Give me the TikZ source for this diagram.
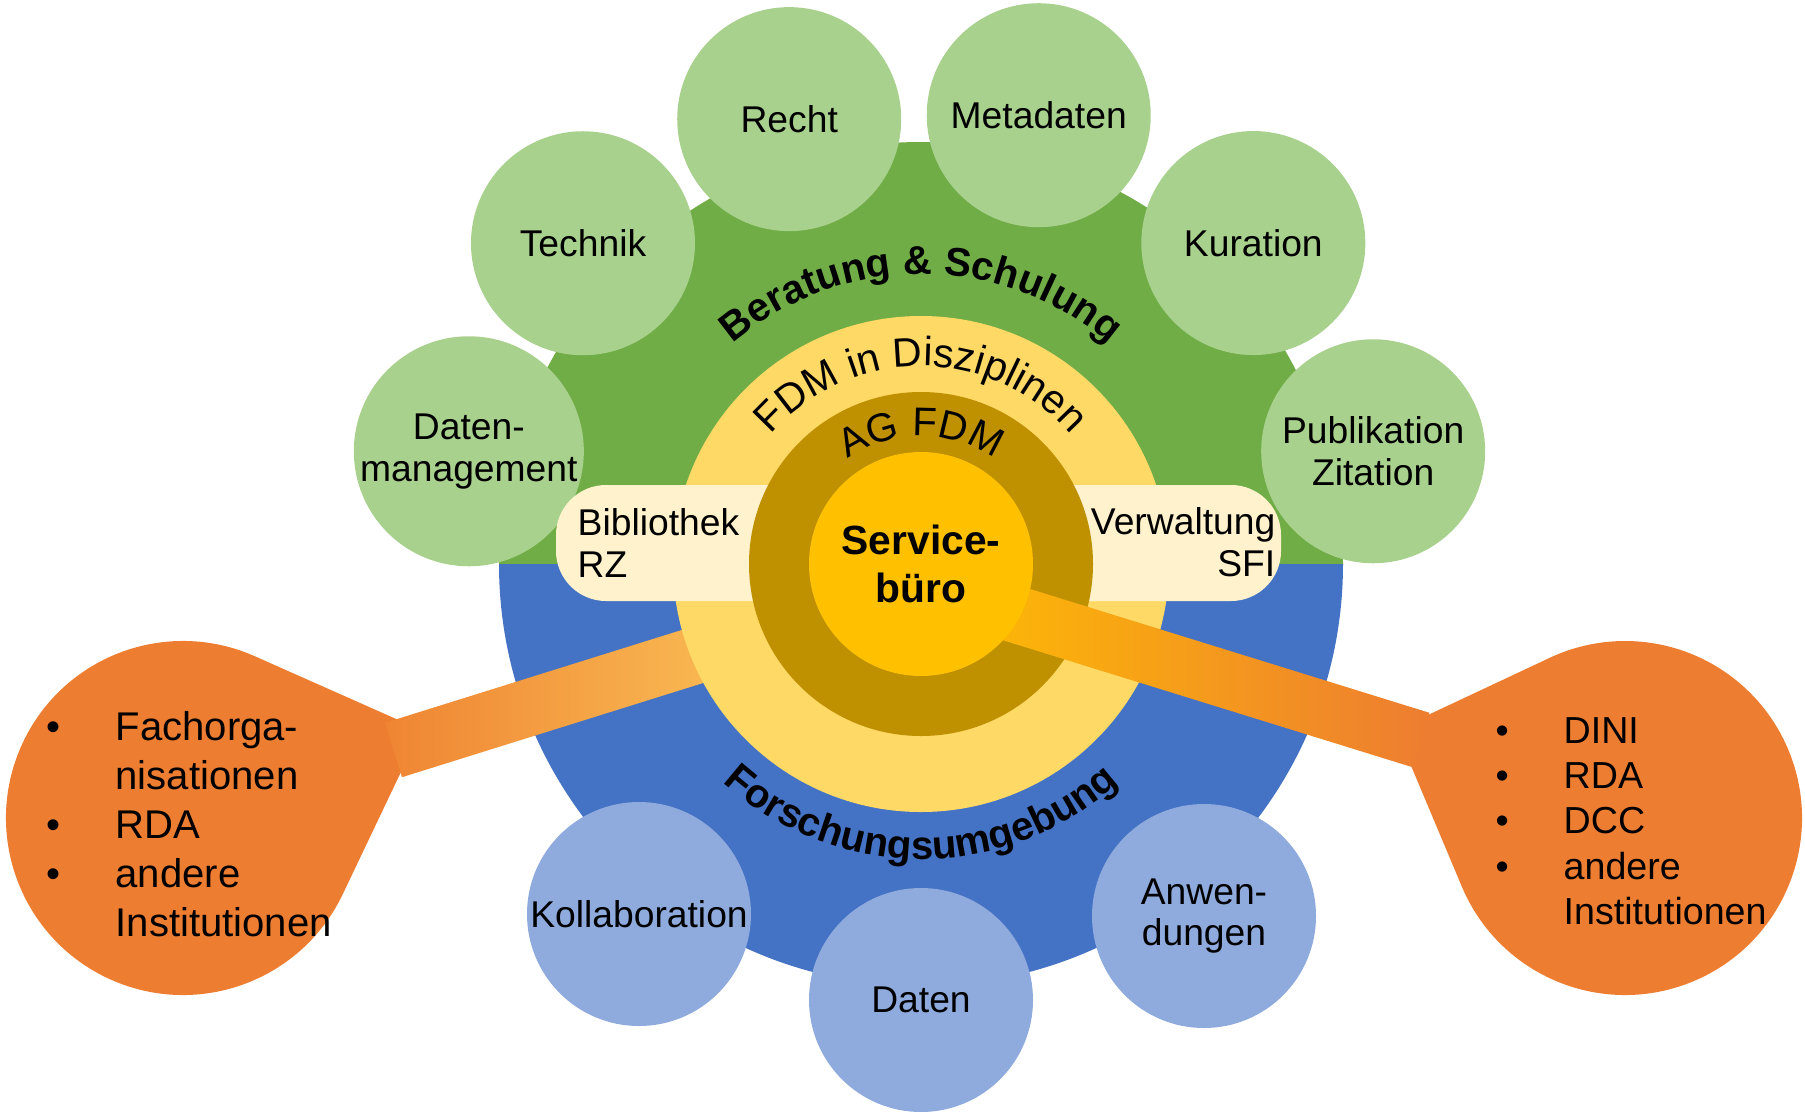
\documentclass[tikz,border=0pt]{standalone}
\usepackage{fontspec}
\setmainfont{Liberation Sans}
\usetikzlibrary{calc,decorations.text}

\definecolor{ringgreen}{HTML}{70AD47}
\definecolor{leafgreen}{HTML}{A9D18E}
\definecolor{ringblue}{HTML}{4472C4}
\definecolor{leafblue}{HTML}{8FAADC}
\definecolor{discyellow}{HTML}{FFD966}
\definecolor{agbrown}{HTML}{BF9000}
\definecolor{coregold}{HTML}{FFC000}
\definecolor{barcream}{HTML}{FFF2CC}
\definecolor{callorange}{HTML}{ED7D31}
\definecolor{beamorange}{HTML}{EF8533}

\newcommand{\leaffont}{\fontsize{10.6}{11.9}\selectfont}

\begin{document}
\begin{tikzpicture}[
    leaf/.style={circle, fill=leafgreen, minimum size=2.24cm, inner sep=0pt, align=center, font=\leaffont},
    tool/.style={leaf, fill=leafblue},
    disc/.style={circle, inner sep=0pt, minimum size=#1},
    arctext/.style={decorate, decoration={text along path, text align=center, text={#1}}},
    bubble/.style={fill=callorange},
]

\useasboundingbox (-9.21,-5.47) rectangle (8.84,5.64);

% outer ring
\fill[ringgreen] (4.22,0) arc[start angle=0, end angle=180, radius=4.22] -- cycle;
\fill[ringblue] (-4.22,0) arc[start angle=180, end angle=360, radius=4.22] -- cycle;

\node[leaf] (datenmgmt) at (166:4.66) {Daten-\\management};
\node[leaf] (technik) at (136.5:4.66) {Technik};
\node[leaf] (recht) at (106.5:4.64) {Recht};
\node[leaf] (metadaten) at (75.3:4.64) {Metadaten};
\node[leaf] (kuration) at (44:4.62) {Kuration};
\node[leaf] (publikation) at (14:4.66) {Publikation\\Zitation};

\node[tool] (kollab) at (-2.82,-3.50) {Kollaboration};
\node[tool] (daten) at (0,-4.36) {Daten};
\node[tool] (anwend) at (2.83,-3.52) {Anwen-\\dungen};

% callouts
\coordinate (lbub) at (-7.38,-2.54);
\coordinate (rbub) at (7.04,-2.54);
\fill[bubble] (-5.00,-1.66) -- ($(lbub)+(66.1:1.77)$) arc[start angle=66.1, end angle=334.5, radius=1.77] -- cycle;
\fill[bubble] (4.75,-1.66) -- ($(rbub)+(202.8:1.77)$) arc[start angle=202.8, end angle=475.2, radius=1.77] -- cycle;

% beams to the callouts
\coordinate (hub) at (0,-0.21);
\coordinate (lend) at (-5.275,-1.86);
\coordinate (rend) at (5.00,-1.76);

\shade[left color=beamorange, right color=discyellow]
  ($(hub)!0.285cm!-90:(lend)$) -- ($(lend)!0.285cm!90:(hub)$)
  -- ($(lend)!0.285cm!-90:(hub)$) -- ($(hub)!0.285cm!90:(lend)$) -- cycle;

\node[disc=4.96cm, fill=discyellow] (fdm) at (0,0) {};

\fill[barcream, rounded corners=0.5cm] (-3.65,-0.37) rectangle (3.60,0.79);

\node[disc=3.44cm, fill=agbrown] (ag) at (0,0) {};

\shade[left color=coregold, right color=callorange]
  ($(hub)!0.285cm!90:(rend)$) -- ($(rend)!0.285cm!-90:(hub)$)
  -- ($(rend)!0.285cm!90:(hub)$) -- ($(hub)!0.285cm!-90:(rend)$) -- cycle;

\node[disc=2.24cm, fill=coregold, align=center, font=\fontsize{11.6}{13.7}\selectfont\bfseries] (service) at (0,0) {Service-\\büro};

% texts
\path[arctext={|\fontsize{11.4}{13}\selectfont\bfseries|Beratung {\&} Schulung}] (160:2.9) arc[start angle=160, end angle=20, radius=2.9];
\path[arctext={|\fontsize{11.6}{13}\selectfont|FDM in Disziplinen}] (170:1.98) arc[start angle=170, end angle=10, radius=1.98];
\path[arctext={|\fontsize{11.4}{13}\selectfont|AG FDM}] (170:1.28) arc[start angle=170, end angle=10, radius=1.28];
\path[arctext={|\fontsize{11.4}{13}\selectfont\bfseries|Forschungsumgebung}] (200:2.95) arc[start angle=200, end angle=340, radius=2.95];

\node[anchor=west, font=\leaffont, align=left, inner sep=0pt] (bib) at (-3.44,0.21) {Bibliothek\\RZ};
\node[anchor=east, font=\leaffont, align=right, inner sep=0pt] (verw) at (3.55,0.22) {Verwaltung\\SFI};

\node[anchor=base west, inner sep=0pt, font=\fontsize{11.4}{14}\selectfont] (lliste) at (-8.75,-1.76)
  {\begin{tabular}[t]{@{}l@{}l@{}}\makebox[0.69cm][l]{\textbullet} & Fachorga-\\ & nisationen\\ \textbullet & RDA\\ \textbullet & andere\\ & Institutionen\end{tabular}};
\node[anchor=base west, inner sep=0pt, font=\fontsize{10.7}{12.9}\selectfont] (rliste) at (5.74,-1.79)
  {\begin{tabular}[t]{@{}l@{}l@{}}\makebox[0.68cm][l]{\textbullet} & DINI\\ \textbullet & RDA\\ \textbullet & DCC\\ \textbullet & andere\\ & Institutionen\end{tabular}};

\end{tikzpicture}
\end{document}
